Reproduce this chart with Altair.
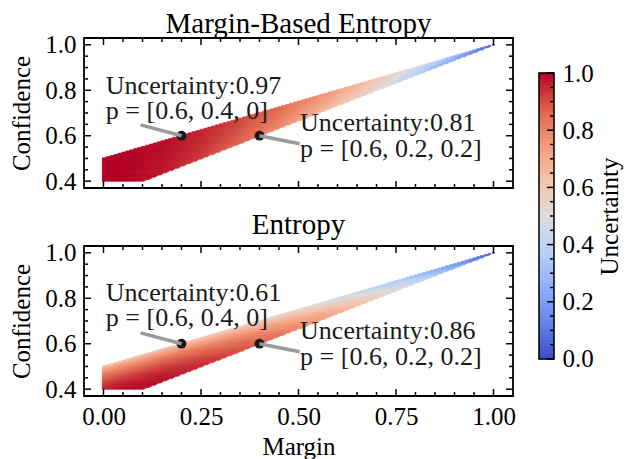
import altair as alt
import numpy as np
import pandas as pd

FONT = "Liberation Serif"

# ---------------- data ----------------
margin_grid = np.round(np.arange(0.0, 1.0 + 1e-9, 0.005), 4)
confidence_grid = np.round(np.arange(0.4, 1.0 + 1e-9, 0.005), 4)
CELL = 0.005

colormap_stops = [0.0, 0.125, 0.25, 0.375, 0.5, 0.625, 0.75, 0.875, 1.0]
colormap_colors = ["#3b4cc0", "#6282ea", "#8db0fe", "#b8d0f9", "#dddddd",
                   "#f5c4ac", "#f49a7b", "#dd604c", "#b40426"]

panel_titles = ["Margin-Based Entropy", "Entropy"]
title_offsets = [-6, 1]

point_margin = [0.2, 0.4]
point_confidence = [0.6, 0.6]
line_from_margin = [0.095, 0.503]
line_from_confidence = [0.648, 0.565]

label_text_top = ["Uncertainty:0.97", "p = [0.6, 0.4, 0]",
                  "Uncertainty:0.81", "p = [0.6, 0.2, 0.2]"]
label_text_bottom = ["Uncertainty:0.61", "p = [0.6, 0.4, 0]",
                     "Uncertainty:0.86", "p = [0.6, 0.2, 0.2]"]
label_margin = [0.006, 0.006, 0.504, 0.504]
label_conf_top = [0.782, 0.672, 0.619, 0.505]
label_conf_bottom = [0.789, 0.678, 0.623, 0.508]

x_major = [0.0, 0.25, 0.5, 0.75, 1.0]
x_minor = [round(0.05 * i, 2) for i in range(21) if i % 5 != 0]
y_major = [0.4, 0.6, 0.8, 1.0]
y_minor = [0.45, 0.5, 0.55, 0.65, 0.7, 0.75, 0.85, 0.9, 0.95]
cb_major = [0.0, 0.2, 0.4, 0.6, 0.8, 1.0]
cb_minor = [round(0.05 * i, 2) for i in range(21) if i % 4 != 0]


# ---------------- uncertainty measures ----------------
def margin_based_entropy(m, c):
    q = c / (2 * c - m)
    q = np.clip(q, 1e-12, 1 - 1e-12)
    return -(q * np.log2(q) + (1 - q) * np.log2(1 - q))


def shannon_entropy(m, c):
    h = 0.0
    for p in (c, c - m, 1 - 2 * c + m):
        p = np.clip(p, 1e-12, 1)
        h = h - p * np.log(p)
    return h / np.log(3)


M, C = np.meshgrid(margin_grid, confidence_grid)
M = M.ravel()
C = C.ravel()
feasible = (C <= (1 + M) / 2 + 1e-9) & (C >= (1 + 2 * M) / 3 - 1e-9)
M = M[feasible]
C = C[feasible]
half = CELL * 0.6


def heat_frame(values):
    return pd.DataFrame({
        "x1": np.round(M - half, 4),
        "x2": np.round(M + half, 4),
        "y1": np.round(np.maximum(C - half, 0.4), 4),
        "y2": np.round(C + half, 4),
        "u": np.round(values, 4),
    })


heat_data = [heat_frame(margin_based_entropy(M, C)),
             heat_frame(shannon_entropy(M, C))]

# ---------------- scales ----------------
W, H = 429, 150
xscale = alt.Scale(domain=[-0.05, 1.05], nice=False, zero=False)
yscale = alt.Scale(domain=[0.37, 1.03], nice=False, zero=False)
cscale = alt.Scale(domain=colormap_stops, range=colormap_colors, interpolate="rgb")

MAJOR, MINOR, TW = 7, 4, 1.5


def panel(idx, show_x):
    if show_x:
        xaxis = alt.Axis(values=x_major, format=".2f", title="Margin",
                         labelPadding=8, titlePadding=5)
    else:
        xaxis = None
    yaxis = alt.Axis(values=y_major, format=".1f", title="Confidence",
                     labelPadding=8, titlePadding=10)

    def X(f):
        return alt.X(f, scale=xscale, axis=xaxis)

    def Y(f):
        return alt.Y(f, scale=yscale, axis=yaxis)

    heat = alt.Chart(heat_data[idx]).mark_rect(strokeWidth=0.6).encode(
        x=X("x1:Q"), x2="x2:Q", y=Y("y1:Q"), y2="y2:Q",
        color=alt.Color("u:Q", scale=cscale, legend=None),
        stroke=alt.Stroke("u:Q", scale=cscale, legend=None),
    )

    def xt(vals, length, side):
        if side == "bottom":
            y, y2 = alt.value(H), alt.value(H - length)
        else:
            y, y2 = alt.value(0), alt.value(length)
        return alt.Chart(pd.DataFrame({"v": vals})).mark_rule(
            color="black", strokeWidth=TW).encode(x=X("v:Q"), y=y, y2=y2)

    def yt(vals, length, side):
        if side == "left":
            x, x2 = alt.value(0), alt.value(length)
        else:
            x, x2 = alt.value(W), alt.value(W - length)
        return alt.Chart(pd.DataFrame({"v": vals})).mark_rule(
            color="black", strokeWidth=TW).encode(y=Y("v:Q"), x=x, x2=x2)

    ticks = [xt(x_major, MAJOR, "bottom"), xt(x_minor, MINOR, "bottom"),
             xt(x_major, MAJOR, "top"), xt(x_minor, MINOR, "top"),
             yt(y_major, MAJOR, "left"), yt(y_minor, MINOR, "left"),
             yt(y_major, MAJOR, "right"), yt(y_minor, MINOR, "right")]
    pts = pd.DataFrame({"m": point_margin, "c": point_confidence,
                        "m2": line_from_margin, "c2": line_from_confidence})
    dots = alt.Chart(pts).mark_circle(size=95, color="#1a1a1a", opacity=1).encode(
        x=X("m:Q"), y=Y("c:Q"))
    lines = alt.Chart(pts).mark_rule(color="#9a9a9a", strokeWidth=3.5).encode(
        x=X("m:Q"), y=Y("c:Q"), x2="m2:Q", y2="c2:Q")
    lab = pd.DataFrame({
        "t": label_text_top if idx == 0 else label_text_bottom,
        "m": label_margin,
        "c": label_conf_top if idx == 0 else label_conf_bottom,
    })
    texts = alt.Chart(lab).mark_text(
        align="left", baseline="alphabetic", font=FONT, fontSize=26, color="#1a1a1a"
    ).encode(x=X("m:Q"), y=Y("c:Q"), text="t:N")
    return alt.layer(heat, *ticks, dots, lines, texts).properties(
        width=W, height=H,
        title=alt.TitleParams(panel_titles[idx], frame="group",
                              offset=title_offsets[idx]),
    )


# ---------------- colour bar ----------------
CBW, CBH = 15, 356
cb_scale = alt.Scale(domain=[-0.1224, 1.1224], nice=False, zero=False)
cb_axis = alt.Axis(orient="right", values=cb_major, format=".1f",
                   title="Uncertainty", titleAngle=270, titleBaseline="top",
                   labelPadding=8, titlePadding=4)
cb_vals = np.round(np.arange(0, 1 + 1e-9, 0.005), 4)
cb_df = pd.DataFrame({"v": cb_vals,
                      "v1": np.clip(cb_vals - 0.003, 0, 1),
                      "v2": np.clip(cb_vals + 0.003, 0, 1)})
cb_rect = alt.Chart(cb_df).mark_rect(strokeWidth=0.6).encode(
    x=alt.value(0), x2=alt.value(CBW),
    y=alt.Y("v1:Q", scale=cb_scale, axis=cb_axis), y2="v2:Q",
    color=alt.Color("v:Q", scale=cscale, legend=None),
    stroke=alt.Stroke("v:Q", scale=cscale, legend=None),
)
cb_frame = alt.Chart(pd.DataFrame({"a": [0.0], "b": [1.0]})).mark_rect(
    filled=False, stroke="black", strokeWidth=1.5).encode(
    x=alt.value(0), x2=alt.value(CBW),
    y=alt.Y("a:Q", scale=cb_scale, axis=cb_axis), y2="b:Q")


def cb_ticks(vals, length):
    return alt.Chart(pd.DataFrame({"v": vals})).mark_rule(
        color="black", strokeWidth=TW).encode(
        y=alt.Y("v:Q", scale=cb_scale, axis=cb_axis),
        x=alt.value(CBW), x2=alt.value(CBW - length))


colorbar = alt.layer(cb_rect, cb_frame, cb_ticks(cb_major, MAJOR),
                     cb_ticks(cb_minor, MINOR)).properties(
    width=CBW, height=CBH, view=alt.ViewBackground(stroke="transparent"))

left = alt.vconcat(panel(0, False), panel(1, True), spacing=13)
chart = alt.hconcat(left, colorbar, spacing=20).properties(padding=0).configure(
    font=FONT, background="white"
).configure_view(stroke="black", strokeWidth=1.8).configure_axis(
    labelFont=FONT, labelFontSize=25, titleFont=FONT, titleFontSize=25,
    titleFontWeight="normal", labelColor="black", titleColor="black",
    grid=False, ticks=False, tickSize=0, domain=False,
).configure_title(font=FONT, fontSize=29, fontWeight="normal", color="black")

chart.save("out.html", embed_options={"renderer": "svg", "actions": False})
